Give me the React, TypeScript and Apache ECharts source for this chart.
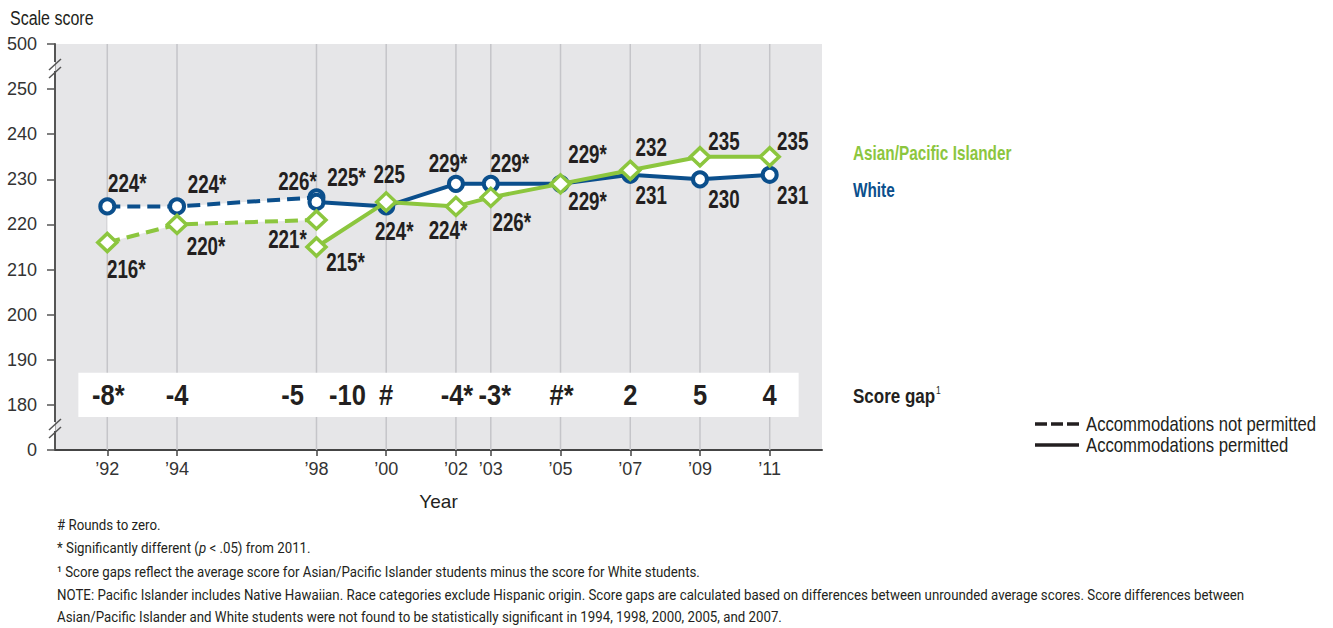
import React, { useEffect, useRef } from 'react';
import * as echarts from 'echarts';

// ---------- data ----------
const YEARS_DASHED = [1992, 1994, 1998];
const YEARS_SOLID = [1998, 2000, 2002, 2003, 2005, 2007, 2009, 2011];
const WHITE_DASHED = [224, 224, 226];
const WHITE_SOLID = [225, 224, 229, 229, 229, 231, 230, 231];
const ASIAN_DASHED = [216, 220, 221];
const ASIAN_SOLID = [215, 225, 224, 226, 229, 232, 235, 235];
const WHITE_DASHED_SIG = [true, true, true];
const WHITE_SOLID_SIG = [true, true, true, true, true, false, false, false];
const ASIAN_DASHED_SIG = [true, true, true];
const ASIAN_SOLID_SIG = [true, false, true, true, true, false, false, false];
const TICK_YEARS = [1992, 1994, 1998, 2000, 2002, 2003, 2005, 2007, 2009, 2011];
const GAP_YEARS = [1992, 1994, 1998, 1998, 2000, 2002, 2003, 2005, 2007, 2009, 2011];
const GAP_LABELS = ['-8*', '-4', '-5', '-10', '#', '-4*', '-3*', '#*', '2', '5', '4'];

// ---------- layout (label offsets in px) ----------
const WHITE_DASHED_OFF = [[20, -23], [30, -22], [-19, -16]];
const WHITE_SOLID_OFF = [[30, -24], [8, 25], [-8, -20], [19, -20], [27, 18], [21, 21], [24, 20], [23, 21]];
const ASIAN_DASHED_OFF = [[19, 27], [29, 22], [-29, 20]];
const ASIAN_SOLID_OFF = [[29, 16], [3, -27], [-8, 24], [21, 25], [27, -29], [21, -23], [24, -15], [23, -15]];
const GAP_OFF = [[1, 0], [0, 0], [-24, 0], [31, 0], [0, 0], [1, 0], [4, 0], [1, 0], [0, 0], [0, 0], [0, 0]];

const Y_MIN = 170;
const Y_MAX = 260;
const GAP_ROW_Y = 182.2;
const BAND = [1991.17, 177.3, 2011.83, 187.1];

const BLUE = '#0b4f8c';
const GREEN = '#8cc63e';
const DARK = '#231f20';
const FONT = "'Liberation Sans', Arial, sans-serif";
const NOTE_FONT = "Roboto, 'Liberation Sans', sans-serif";
const NOTE_SCALE = 0.885;

function lineSeries(name: string, years: number[], vals: number[], color: string, dashed: boolean, symbol: string, symbolSize: any, z: number) {
  return {
    name,
    type: 'line',
    z,
    data: years.map((y, i) => [y, vals[i]]),
    symbol,
    symbolSize,
    showAllSymbol: true,
    lineStyle: { color, width: 4, type: dashed ? [13, 7] : 'solid' },
    itemStyle: { color: '#ffffff', borderColor: color, borderWidth: symbol === 'circle' ? 4 : 3.5 },
    label: { show: false },
    emphasis: { disabled: true },
    silent: true,
  };
}

function segData(years: number[], a: number[], b: number[]) {
  const out: number[][] = [];
  for (let i = 0; i < years.length - 1; i++) {
    out.push([years[i], a[i], b[i], years[i + 1], a[i + 1], b[i + 1]]);
  }
  return out;
}

function labelItems(years: number[], vals: number[], sig: boolean[], off: number[][]) {
  return years.map((y, i) => ({ x: y, y: vals[i], text: String(vals[i]) + (sig[i] ? '*' : ''), off: off[i] }));
}

export default function App() {
  const ref = useRef<HTMLDivElement>(null);
  useEffect(() => {
    if (!ref.current) return;
    const chart = echarts.init(ref.current, undefined, { renderer: 'svg' });
    const fills = segData(YEARS_DASHED, WHITE_DASHED, ASIAN_DASHED).concat(segData(YEARS_SOLID, WHITE_SOLID, ASIAN_SOLID));
    const labels = [
      ...labelItems(YEARS_DASHED, WHITE_DASHED, WHITE_DASHED_SIG, WHITE_DASHED_OFF),
      ...labelItems(YEARS_SOLID, WHITE_SOLID, WHITE_SOLID_SIG, WHITE_SOLID_OFF),
      ...labelItems(YEARS_DASHED, ASIAN_DASHED, ASIAN_DASHED_SIG, ASIAN_DASHED_OFF),
      ...labelItems(YEARS_SOLID, ASIAN_SOLID, ASIAN_SOLID_SIG, ASIAN_SOLID_OFF),
    ];
    const gaps = GAP_YEARS.map((y, i) => ({ x: y, y: GAP_ROW_Y, text: GAP_LABELS[i], off: GAP_OFF[i] }));

    const textStyle = (extra: any) => ({ fontFamily: FONT, fill: DARK, ...extra });
    const noteStyle = (extra: any) => ({ fontFamily: NOTE_FONT, fill: DARK, fontSize: 15, verticalAlign: 'middle', ...extra });

    const labelRender = (items: any[], fontSize: number, scaleX: number) => (params: any, api: any) => {
      const it = items[params.dataIndex];
      const p = api.coord([it.x, it.y]);
      return {
        type: 'text',
        x: p[0] + it.off[0],
        y: p[1] + it.off[1],
        scaleX,
        style: {
          text: it.text,
          fontFamily: FONT,
          fontWeight: 'bold',
          fontSize,
          fill: DARK,
          align: 'center',
          verticalAlign: 'middle',
        },
      };
    };

    const option: any = {
      animation: false,
      grid: { left: 55, right: 511, top: 44, bottom: 178, show: true, backgroundColor: '#e6e6e8', borderWidth: 0 },
      xAxis: {
        type: 'value',
        min: 1990.5,
        max: 2012.5,
        name: 'Year',
        nameLocation: 'middle',
        nameGap: 42,
        nameTextStyle: { fontFamily: FONT, fontSize: 19, color: DARK },
        axisLine: { show: true, lineStyle: { color: '#444', width: 2 } },
        axisTick: { show: true, customValues: TICK_YEARS, length: 6, lineStyle: { color: '#444', width: 1.5 } },
        axisLabel: {
          customValues: TICK_YEARS,
          formatter: (v: number) => '\u2019' + String(v).slice(2),
          fontFamily: FONT,
          fontSize: 18,
          color: '#333',
          margin: 10,
        },
        splitLine: { show: false },
      },
      yAxis: {
        type: 'value',
        min: Y_MIN,
        max: Y_MAX,
        interval: 10,
        axisLine: { show: true, lineStyle: { color: '#555', width: 2 } },
        axisTick: { show: true, length: 8, lineStyle: { color: '#555', width: 1.5 } },
        axisLabel: {
          formatter: (v: number) => (v === Y_MIN ? '0' : v === Y_MAX ? '500' : String(v)),
          fontFamily: FONT,
          fontSize: 18,
          color: '#333',
          margin: 18,
        },
        splitLine: { show: false },
      },
      series: [
        {
          type: 'custom',
          z: 1,
          silent: true,
          data: TICK_YEARS.map((y) => [y, Y_MIN]),
          encode: { x: 0, y: 1 },
          renderItem: (params: any, api: any) => {
            const p = api.coord([api.value(0), Y_MIN]);
            const cs = params.coordSys;
            return {
              type: 'line',
              shape: { x1: p[0], y1: cs.y, x2: p[0], y2: cs.y + cs.height },
              style: { stroke: '#c5c5c9', lineWidth: 1.5 },
            };
          },
        },
        {
          type: 'custom',
          z: 2,
          silent: true,
          data: [BAND],
          encode: { x: [0, 2], y: [1, 3] },
          renderItem: (params: any, api: any) => {
            const a = api.coord([api.value(0), api.value(3)]);
            const b = api.coord([api.value(2), api.value(1)]);
            return {
              type: 'rect',
              shape: { x: a[0], y: a[1], width: b[0] - a[0], height: b[1] - a[1] },
              style: { fill: '#ffffff' },
            };
          },
        },
        {
          type: 'custom',
          z: 3,
          silent: true,
          data: fills,
          encode: { x: [0, 3], y: [1, 2, 4, 5] },
          renderItem: (params: any, api: any) => {
            const p1 = api.coord([api.value(0), api.value(1)]);
            const p2 = api.coord([api.value(3), api.value(4)]);
            const p3 = api.coord([api.value(3), api.value(5)]);
            const p4 = api.coord([api.value(0), api.value(2)]);
            return {
              type: 'polygon',
              shape: { points: [p1, p2, p3, p4] },
              style: { fill: '#ffffff' },
            };
          },
        },
        lineSeries('White dashed', YEARS_DASHED, WHITE_DASHED, BLUE, true, 'circle', 14, 4),
        lineSeries('White', YEARS_SOLID, WHITE_SOLID, BLUE, false, 'circle', 14, 5),
        lineSeries('Asian dashed', YEARS_DASHED, ASIAN_DASHED, GREEN, true, 'diamond', [19, 18], 6),
        lineSeries('Asian/Pacific Islander', YEARS_SOLID, ASIAN_SOLID, GREEN, false, 'diamond', [19, 18], 7),
        {
          type: 'custom',
          z: 8,
          silent: true,
          clip: false,
          data: labels.map((l) => [l.x, l.y]),
          encode: { x: 0, y: 1 },
          renderItem: labelRender(labels, 25, 0.75),
        },
        {
          type: 'custom',
          z: 9,
          silent: true,
          clip: false,
          data: gaps.map((l) => [l.x, l.y]),
          encode: { x: 0, y: 1 },
          renderItem: labelRender(gaps, 30, 0.85),
        },
      ],
      graphic: [
        { type: 'text', x: 10, y: 18, scaleX: 0.8, style: textStyle({ text: 'Scale score', fontSize: 20, verticalAlign: 'middle' }) },
        // axis breaks
        { type: 'rect', shape: { x: 52, y: 62, width: 3.5, height: 9 }, style: { fill: '#ffffff' }, z: 100 },
        { type: 'line', shape: { x1: 49, y1: 70, x2: 61, y2: 59 }, style: { stroke: '#555', lineWidth: 1.5 }, z: 101 },
        { type: 'line', shape: { x1: 49, y1: 78, x2: 61, y2: 67 }, style: { stroke: '#555', lineWidth: 1.5 }, z: 101 },
        { type: 'rect', shape: { x: 52, y: 422, width: 3.5, height: 9 }, style: { fill: '#ffffff' }, z: 100 },
        { type: 'line', shape: { x1: 49, y1: 430, x2: 61, y2: 419 }, style: { stroke: '#555', lineWidth: 1.5 }, z: 101 },
        { type: 'line', shape: { x1: 49, y1: 438, x2: 61, y2: 427 }, style: { stroke: '#555', lineWidth: 1.5 }, z: 101 },
        // legends
        { type: 'text', x: 853, y: 153, scaleX: 0.73, style: textStyle({ text: 'Asian/Pacific Islander', fontSize: 21, fontWeight: 'bold', fill: GREEN, verticalAlign: 'middle' }) },
        { type: 'text', x: 853, y: 190, scaleX: 0.73, style: textStyle({ text: 'White', fontSize: 21, fontWeight: 'bold', fill: BLUE, verticalAlign: 'middle' }) },
        {
          type: 'text', x: 853, y: 396, scaleX: 0.85,
          style: textStyle({ text: 'Score gap{s|1}', fontSize: 20, fontWeight: 'bold', verticalAlign: 'middle', rich: { s: { fontSize: 10, fontFamily: FONT, fill: DARK, verticalAlign: 'top', padding: [0, 0, 10, 1] } } }),
        },
        { type: 'line', shape: { x1: 1035, y1: 424, x2: 1079, y2: 424 }, style: { stroke: DARK, lineWidth: 3.5, lineDash: [12, 4] } },
        { type: 'line', shape: { x1: 1035, y1: 445, x2: 1079, y2: 445 }, style: { stroke: DARK, lineWidth: 3.5 } },
        { type: 'text', x: 1086, y: 424, scaleX: 0.795, style: textStyle({ text: 'Accommodations not permitted', fontSize: 21, verticalAlign: 'middle' }) },
        { type: 'text', x: 1086, y: 445, scaleX: 0.795, style: textStyle({ text: 'Accommodations permitted', fontSize: 21, verticalAlign: 'middle' }) },
        // footnotes
        { type: 'text', x: 57, y: 525, scaleX: NOTE_SCALE, style: noteStyle({ text: '# Rounds to zero.' }) },
        {
          type: 'text', x: 57, y: 548, scaleX: NOTE_SCALE,
          style: noteStyle({ text: '* Significantly different ({i|p} < .05) from 2011.', rich: { i: { fontStyle: 'italic', fontSize: 15, fontFamily: NOTE_FONT, fill: DARK } } }),
        },
        { type: 'text', x: 57, y: 572, scaleX: NOTE_SCALE, style: noteStyle({ text: '\u00b9 Score gaps reflect the average score for Asian/Pacific Islander students minus the score for White students.' }) },
        { type: 'text', x: 57, y: 595, scaleX: NOTE_SCALE, style: noteStyle({ text: 'NOTE: Pacific Islander includes Native Hawaiian. Race categories exclude Hispanic origin. Score gaps are calculated based on differences between unrounded average scores. Score differences between' }) },
        { type: 'text', x: 57, y: 617, scaleX: NOTE_SCALE, style: noteStyle({ text: 'Asian/Pacific Islander and White students were not found to be statistically significant in 1994, 1998, 2000, 2005, and 2007.' }) },
      ],
    };
    chart.setOption(option);
    return () => chart.dispose();
  }, []);
  return <div ref={ref} style={{ width: 1333, height: 628, position: 'absolute', left: 0, top: 0 }} />;
}
